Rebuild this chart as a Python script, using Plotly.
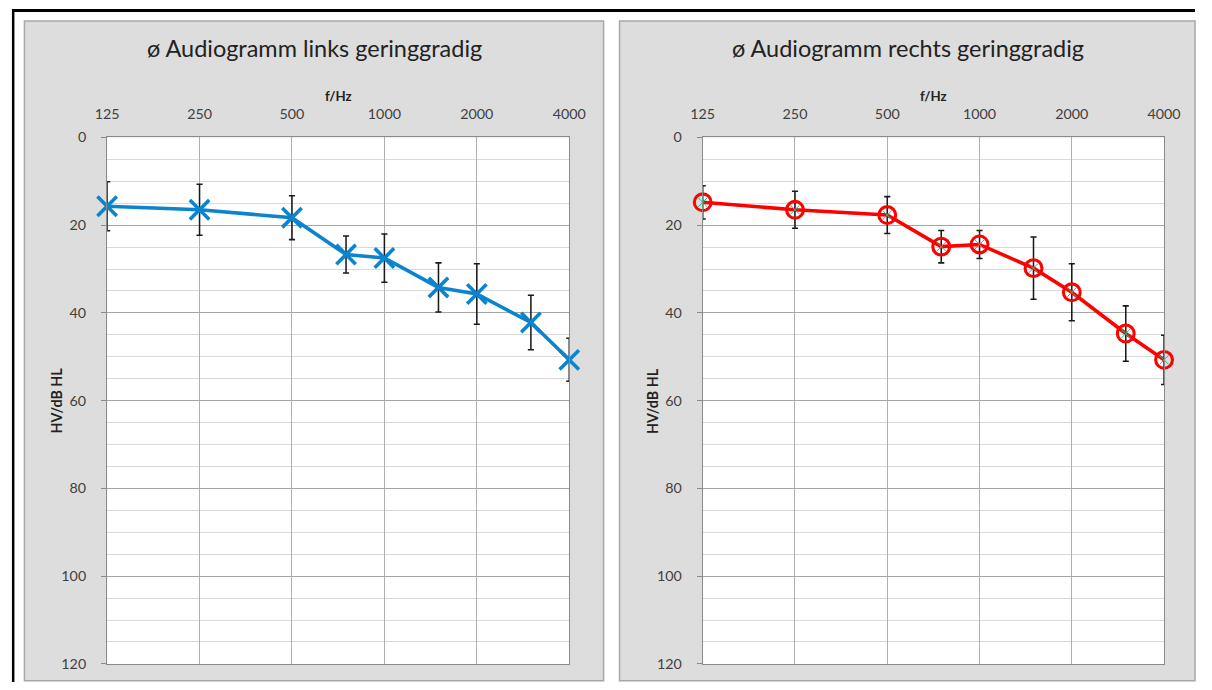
import math
import plotly.graph_objects as go

freqs = [125, 250, 500, 750, 1000, 1500, 2000, 3000, 4000]
left_mean = [15.7, 16.5, 18.3, 26.7, 27.5, 34.2, 35.7, 42.2, 50.7]
left_sd = [5.6, 5.8, 5.0, 4.2, 5.5, 5.6, 6.9, 6.2, 4.9]
right_mean = [14.8, 16.5, 17.7, 24.9, 24.4, 29.8, 35.3, 44.7, 50.7]
right_sd = [3.8, 4.2, 4.2, 3.7, 3.2, 7.1, 6.5, 6.3, 5.6]
tick_freqs = [125, 250, 500, 1000, 2000, 4000]
tick_labels = ["125", "250", "500", "1000", "2000", "4000"]
titles = ["ø Audiogramm links geringgradig", "ø Audiogramm rechts geringgradig"]

W, H = 1212, 690
FONT = "Lato"
# the photographed page appears scaled by S and offset by (OX, OY)
S, OX, OY = 0.98, 10.0, 8.0
K = 1 / S


def px(x):
    return min(max((x - OX) / S / W, 0), 1)


def py(y):
    return min(max(1 - (y - OY) / S / H, 0), 1)


fig = go.Figure()

err = dict(type="data", thickness=1.5 * K, width=3 * K, color="#1a1a1a")

fig.add_trace(go.Scatter(
    x=freqs, y=left_mean, mode="lines+markers",
    line=dict(color="#0a84cf", width=3.5 * K),
    marker=dict(symbol="x-thin-open", size=19 * K, line=dict(color="#0a84cf", width=3.5 * K)),
    error_y=dict(array=left_sd, **err),
    xaxis="x", yaxis="y", cliponaxis=False, showlegend=False,
))
fig.add_trace(go.Scatter(
    x=freqs, y=right_mean, mode="lines+markers",
    line=dict(color="#ff0000", width=3.5 * K),
    marker=dict(symbol="circle-open", size=16.5 * K, line=dict(color="#ff0000", width=3 * K)),
    error_y=dict(array=right_sd, **err),
    xaxis="x2", yaxis="y2", cliponaxis=False, showlegend=False,
))
fig.add_trace(go.Scatter(
    x=freqs, y=right_mean, mode="markers",
    marker=dict(symbol="x-thin-open", size=9 * K, line=dict(color="#a99be0", width=1)),
    xaxis="x2", yaxis="y2", cliponaxis=False, showlegend=False, hoverinfo="skip",
))

ydom = [py(666), py(137)]
xdoms = [[px(105.5), px(569.5)], [px(703.5), px(1166.7)]]

xaxis_common = dict(
    type="log", range=[math.log10(125), math.log10(4000)], side="top",
    tickvals=tick_freqs, ticktext=tick_labels,
    ticks="outside", ticklen=11 * K, tickcolor="rgba(0,0,0,0)",
    showgrid=True, gridcolor="#b0b0b0", gridwidth=1,
    showline=True, linecolor="#8a8a8a", linewidth=1, mirror=True,
    tickfont=dict(family=FONT, size=14 * K, color="#404040"), zeroline=False,
)
yaxis_common = dict(
    range=[120, 0], dtick=20, tick0=0, ticks="outside", ticklen=5 * K, tickcolor="#8a8a8a",
    ticklabelstandoff=12,
    showgrid=True, gridcolor="#a6a6a6", gridwidth=1,
    minor=dict(dtick=5, showgrid=True, gridcolor="#d9d9d9", ticks=""),
    showline=True, linecolor="#8a8a8a", linewidth=1, mirror=True,
    tickfont=dict(family=FONT, size=14 * K, color="#404040"), zeroline=False,
)

fig.update_layout(
    width=W, height=H, margin=dict(l=0, r=0, t=0, b=0),
    paper_bgcolor="white", plot_bgcolor="white",
    xaxis=dict(domain=xdoms[0], anchor="y", **xaxis_common),
    yaxis=dict(domain=ydom, anchor="x", **yaxis_common),
    xaxis2=dict(domain=xdoms[1], anchor="y2", **xaxis_common),
    yaxis2=dict(domain=ydom, anchor="x2", **yaxis_common),
)

shapes = []
for x0, x1 in [(22.5, 604), (620, 1199)]:
    shapes.append(dict(type="rect", xref="paper", yref="paper", layer="below",
                       x0=px(x0), x1=px(x1), y0=py(683), y1=py(20),
                       fillcolor="#dddddd", line=dict(color="#a8a8a8", width=1.5)))
for xd in xdoms:
    shapes.append(dict(type="rect", xref="paper", yref="paper", layer="below",
                       x0=xd[0], x1=xd[1], y0=ydom[0], y1=ydom[1],
                       fillcolor="white", line=dict(width=0)))
shapes.append(dict(type="line", xref="paper", yref="paper", x0=0, x1=1,
                   y0=1 - 1.5 / H, y1=1 - 1.5 / H, line=dict(color="black", width=3)))
shapes.append(dict(type="line", xref="paper", yref="paper", x0=1.2 / W, x1=1.2 / W,
                   y0=0, y1=1, line=dict(color="black", width=2.5)))
fig.update_layout(shapes=shapes)

annotations = []
for i, (t, (x0, x1)) in enumerate(zip(titles, [(22.5, 604), (620, 1200)])):
    annotations.append(dict(text=t, xref="paper", yref="paper", x=px((x0 + x1) / 2), y=py(47),
                            showarrow=False, xanchor="center", yanchor="middle",
                            font=dict(family=FONT, size=23 * K, color="#222222")))
    xd = xdoms[i]
    annotations.append(dict(text="<b>f/Hz</b>", xref="paper", yref="paper", x=(xd[0] + xd[1]) / 2,
                            y=py(95), showarrow=False, xanchor="center", yanchor="middle",
                            font=dict(family=FONT, size=13 * K, color="#222222")))
    annotations.append(dict(text="<b>HV/dB HL</b>", xref="paper", yref="paper",
                            x=px(55 + (598 if i else 0)), y=py(401.5), textangle=-90,
                            showarrow=False, xanchor="center", yanchor="middle",
                            font=dict(family=FONT, size=14 * K, color="#222222")))
fig.update_layout(annotations=annotations)

fig.write_html(
    "out.html",
    config={"displayModeBar": False},
    post_script="document.documentElement.style.margin='0';document.body.style.margin='0';"
                "document.documentElement.style.overflow='hidden';document.body.style.overflow='hidden';",
)
